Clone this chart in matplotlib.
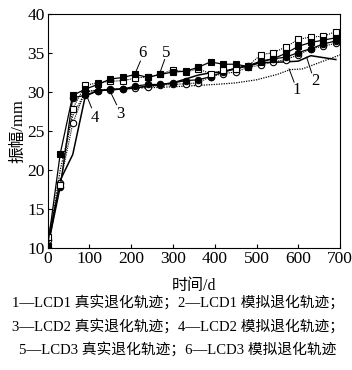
import matplotlib
matplotlib.use("Agg")
import matplotlib.pyplot as plt

plt.rcParams['font.family'] = ['Liberation Serif', 'Noto Sans CJK SC']

# data (days, amplitude mm)
days = [0, 30, 60, 90, 120, 150, 180, 210, 240, 270, 300, 330,
        360, 390, 420, 450, 480, 510, 540, 570, 600, 630, 660, 690]

# curve 1: LCD1 real (dotted, no markers)
lcd1_days = [0, 30, 60, 90, 120, 200, 300, 400, 450, 500, 550, 580, 610, 650, 700]
lcd1_real = [10.0, 20.0, 27.0, 30.0, 30.3, 30.5, 30.7, 31.0, 31.2, 31.6, 32.3, 32.9, 33.0, 33.8, 34.8]
# curve 2: LCD1 simulated (solid, no markers)
lcd1_sim_days = [0, 30, 60, 90, 120, 200, 300, 360, 390, 420, 450, 480, 510, 570, 600, 630, 690]
lcd1_sim = [10.0, 18.7, 22.0, 29.5, 30.2, 30.5, 31.2, 32.2, 32.5, 32.6, 33.1, 33.4, 33.8, 33.9, 34.0, 34.7, 34.2]

# curve 3: LCD2 real (open circles, dotted)
lcd2_real = [11.0, 18.3, 26.0, 30.2, 30.2, 30.3, 30.4, 30.6, 30.7, 30.9, 31.0, 31.1,
             31.2, 32.0, 32.4, 32.6, 33.2, 33.5, 33.9, 34.2, 34.8, 35.6, 35.9, 36.3]
# curve 4: LCD2 simulated (filled circles, solid)
lcd2_sim = [10.0, 17.8, 29.3, 29.6, 30.2, 30.4, 30.4, 30.8, 31.0, 31.0, 31.2, 31.5,
            31.6, 32.0, 32.6, 33.0, 33.4, 34.0, 34.3, 34.5, 35.1, 35.6, 36.2, 36.6]
# curve 5: LCD3 real (open squares, dotted)
lcd3_real = [11.4, 18.1, 27.9, 30.9, 31.2, 31.4, 31.5, 31.8, 32.0, 32.3, 32.9, 32.6,
             33.0, 32.4, 32.8, 33.0, 33.4, 34.8, 35.1, 35.8, 36.8, 37.1, 37.2, 37.8]
# curve 6: LCD3 simulated (filled squares, solid)
lcd3_sim = [10.2, 22.1, 29.6, 30.4, 31.0, 31.7, 31.9, 32.3, 31.9, 32.3, 32.6, 32.7,
            33.2, 33.9, 33.6, 33.6, 33.3, 33.9, 34.3, 35.0, 35.9, 36.4, 36.7, 37.0]

legend_lines = [
    "1—LCD1 真实退化轨迹；2—LCD1 模拟退化轨迹；",
    "3—LCD2 真实退化轨迹；4—LCD2 模拟退化轨迹；",
    "5—LCD3 真实退化轨迹；6—LCD3 模拟退化轨迹",
]

fig = plt.figure(figsize=(3.52, 3.70), dpi=100)
ax = fig.add_axes([0.1355, 0.330, 0.8305, 0.631])

ms = 4.6
ax.plot(lcd1_days, lcd1_real, color="black", lw=0.9, ls=(0, (1, 1)))
ax.plot(lcd1_sim_days, lcd1_sim, color="black", lw=1.1)
ax.plot(days, lcd2_real, color="black", lw=0.8, ls=(0, (1, 1)),
        marker="o", mfc="white", mec="black", ms=ms, mew=0.8)
ax.plot(days, lcd2_sim, color="black", lw=0.9,
        marker="o", mfc="black", mec="black", ms=ms, mew=0.8)
ax.plot(days, lcd3_real, color="black", lw=0.8, ls=(0, (1, 1)),
        marker="s", mfc="white", mec="black", ms=ms, mew=0.8)
ax.plot(days, lcd3_sim, color="black", lw=0.9,
        marker="s", mfc="black", mec="black", ms=ms, mew=0.8)

# curve number labels: (text, text x, text y, leader start x, y, leader end x, y)
labels = [("1", 597, 30.3, 590, 31.3, 578, 33.0),
          ("2", 640, 31.5, 632, 32.5, 620, 34.5),
          ("3", 175, 27.2, 165, 28.4, 148, 30.3),
          ("4", 113, 26.7, 105, 28.0, 93, 29.6),
          ("5", 283, 35.1, 280, 34.2, 270, 32.7),
          ("6", 226, 35.0, 222, 34.0, 210, 32.5)]
for txt, tx, ty, sx, sy, ex, ey in labels:
    ax.text(tx, ty, txt, fontsize=12, ha="center", va="center")
    ax.plot([sx, ex], [sy, ey], color="black", lw=0.7)

ax.set_xlim(0, 700)
ax.set_ylim(10, 40)
ax.set_xticks(range(0, 701, 100))
ax.set_yticks(range(10, 41, 5))
ax.tick_params(direction="in", labelsize=12.5, length=3, width=0.8, pad=2)
for s in ax.spines.values():
    s.set_linewidth(0.8)
ax.set_xlabel("时间/d", fontsize=11.5, labelpad=8)
ax.set_ylabel("振幅/mm", fontsize=12, labelpad=1)

for i, line in enumerate(legend_lines):
    fig.text(0.505, 0.181 - i * 0.064, line, ha="center", va="center", fontsize=10.6)

fig.savefig("out.png", dpi=100)
